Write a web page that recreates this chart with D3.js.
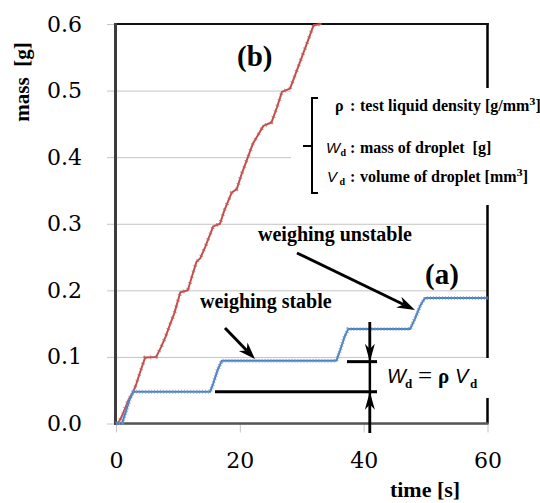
<!DOCTYPE html>
<html>
<head>
<meta charset="utf-8">
<script src="https://cdn.jsdelivr.net/npm/d3@7"></script>
<style>
  body { margin: 0; background: #fff; }
  svg { display: block; }
  .tick text { font-family: 'DejaVu Serif', serif; font-size: 22px; }
</style>
</head>
<body>
<svg id="chart" width="540" height="503"></svg>
<script>
// Axis ticks
const xTicks = [0, 20, 40, 60];
const yTicks = [0, 0.1, 0.2, 0.3, 0.4, 0.5, 0.6];

// (a) droplets weighed one by one: time [s] and mass [g]
const timeA = [0, 1.0, 1.6, 2.2, 2.8, 15.2, 15.7, 16.4, 17.1, 35.6, 36.2, 36.9, 37.5, 47.5, 48.3, 49.2, 49.9, 60];
const massA = [0, 0.001, 0.018, 0.036, 0.0475, 0.0475, 0.060, 0.080, 0.0944, 0.0944, 0.110, 0.130, 0.1418, 0.1418, 0.158, 0.178, 0.1885, 0.1885];

// (b) continuous dripping: time [s] and mass [g]
const timeB = [0, 0.5, 1.0, 2.0, 2.8, 3.3, 4.0, 4.7, 6.5, 7.3, 8.0, 8.7, 9.4, 10.4, 11.6, 12.3, 13.0, 13.6, 14.4, 15.7, 16.8, 17.5, 18.7, 19.5, 20.3, 21.3, 22.1, 23.8, 25.1, 26.0, 26.8, 28.1, 29.0, 30.0, 31.0, 31.9, 33.2];
const massB = [0, 0.003, 0.012, 0.035, 0.048, 0.060, 0.080, 0.099, 0.100, 0.115, 0.130, 0.148, 0.165, 0.197, 0.200, 0.222, 0.243, 0.248, 0.265, 0.296, 0.300, 0.320, 0.347, 0.352, 0.375, 0.400, 0.420, 0.447, 0.452, 0.475, 0.498, 0.503, 0.525, 0.550, 0.575, 0.598, 0.600];

const SERIF = "'Liberation Serif', 'Times New Roman', serif";
const DSERIF = "'DejaVu Serif', serif";
const SANS = "'Liberation Sans', Arial, sans-serif";

const svg = d3.select('#chart');
const x = d3.scaleLinear().domain([0, 60]).range([116, 487.5]);
const y = d3.scaleLinear().domain([0, 0.6]).range([423.5, 24]);

// Horizontal gridlines + y tick labels
svg.append('g')
  .attr('transform', 'translate(107,0)')
  .call(d3.axisLeft(y).tickValues(yTicks).tickSize(-(x(60) - 107)).tickPadding(25).tickFormat(d3.format('.1f')))
  .call(g => {
    g.select('.domain').remove();
    g.selectAll('line').attr('stroke', '#c4c4c4').attr('stroke-width', 1);
    g.selectAll('text').attr('fill', '#000');
  });

// x ticks + labels
svg.append('g')
  .attr('transform', `translate(0,${y(0)})`)
  .call(d3.axisBottom(x).tickValues(xTicks).tickSize(9).tickPadding(20).tickFormat(d3.format('d')))
  .call(g => {
    g.select('.domain').remove();
    g.selectAll('line').attr('stroke', '#c4c4c4').attr('stroke-width', 1);
    g.selectAll('text').attr('fill', '#000');
  });

// Plot frame
svg.append('line').attr('x1', x(60)).attr('x2', x(60)).attr('y1', y(0.6) - 1).attr('y2', y(0))
  .attr('stroke', '#000').attr('stroke-width', 2.5);
svg.append('line').attr('x1', 114).attr('x2', x(60) + 1.2).attr('y1', y(0.6)).attr('y2', y(0.6))
  .attr('stroke', '#111').attr('stroke-width', 2);

// White panels behind the legend and the formula
svg.append('rect').attr('x', 291).attr('y', 88).attr('width', 249).attr('height', 117).attr('fill', '#fff');
svg.append('rect').attr('x', 378).attr('y', 358).attr('width', 122).attr('height', 40).attr('fill', '#fff');

svg.append('line').attr('x1', 114).attr('x2', x(60) + 1).attr('y1', y(0)).attr('y2', y(0))
  .attr('stroke', '#555').attr('stroke-width', 2.5);
svg.append('line').attr('x1', 115.5).attr('x2', 115.5).attr('y1', y(0.6) - 1).attr('y2', y(0) + 1.2)
  .attr('stroke', '#3c3c3c').attr('stroke-width', 3);

// Series lines
const line = d3.line().x(d => x(d[0])).y(d => y(d[1])).curve(d3.curveLinear);
const seriesA = timeA.map((t, i) => [t, massA[i]]);
const seriesB = timeB.map((t, i) => [t, massB[i]]);

function drawSeries(data, color, markColor, dash) {
  svg.append('path').datum(data).attr('d', line)
    .attr('fill', 'none').attr('stroke', color).attr('stroke-width', 2)
    .attr('stroke-linejoin', 'round');
  svg.append('path').datum(data).attr('d', line)
    .attr('fill', 'none').attr('stroke', markColor).attr('stroke-width', 4)
    .attr('stroke-dasharray', dash).attr('opacity', 0.75);
}
drawSeries(seriesB, '#c0504d', '#c65d5a', '1 5');
drawSeries(seriesA, '#4a7ebb', '#6f9bd4', '1 2');

// Arrow helper: shaft plus a filled stealth head at (x2,y2)
function arrow(x1, y1, x2, y2, w, len, half) {
  const a = Math.atan2(y2 - y1, x2 - x1);
  const ca = Math.cos(a), sa = Math.sin(a);
  const bx = x2 - ca * len, by = y2 - sa * len;
  const nx = x2 - ca * len * 0.7, ny = y2 - sa * len * 0.7;
  svg.append('line').attr('x1', x1).attr('y1', y1).attr('x2', nx).attr('y2', ny)
    .attr('stroke', '#000').attr('stroke-width', w);
  const p = d3.path();
  p.moveTo(x2, y2);
  p.lineTo(bx - sa * half, by + ca * half);
  p.lineTo(nx, ny);
  p.lineTo(bx + sa * half, by - ca * half);
  p.closePath();
  svg.append('path').attr('d', p.toString()).attr('fill', '#000');
}

// Annotation arrows
arrow(225, 328, 255, 359, 3, 17, 6);
arrow(297, 253, 415, 310, 3, 18, 6);

// Dimension for one droplet mass
const dimX = x(41);
svg.append('line').attr('x1', dimX).attr('x2', dimX).attr('y1', 322).attr('y2', 433)
  .attr('stroke', '#000').attr('stroke-width', 2.5);
arrow(dimX, 322, dimX, y(massA[8]) + 1, 2.5, 18, 5);
arrow(dimX, 433, dimX, y(massA[4]), 2.5, 18, 5);
svg.append('line').attr('x1', 347).attr('x2', 377).attr('y1', y(massA[8]) + 1).attr('y2', y(massA[8]) + 1)
  .attr('stroke', '#000').attr('stroke-width', 3);
svg.append('line').attr('x1', 215).attr('x2', 377).attr('y1', y(massA[4])).attr('y2', y(massA[4]))
  .attr('stroke', '#000').attr('stroke-width', 3);

// Labels
function label(tx, ty, str, size, opts = {}) {
  return svg.append('text').attr('x', tx).attr('y', ty).text(str)
    .style('font-family', opts.family || SERIF)
    .attr('font-size', size)
    .attr('font-weight', opts.weight || 'bold')
    .attr('font-style', opts.style || 'normal')
    .attr('text-anchor', opts.anchor || 'start')
    .attr('fill', '#000');
}

label(237, 66, '(b)', 29);
label(425, 284, '(a)', 29);
label(258, 241, 'weighing unstable', 20);
label(200, 308, 'weighing stable', 20);
label(425, 497, 'time [s]', 22, { anchor: 'middle' });
svg.append('text').attr('transform', 'translate(29,82) rotate(-90)')
  .attr('text-anchor', 'middle').style('font-family', SERIF).attr('font-weight', 'bold')
  .attr('font-size', 21).text('mass\u00a0 [g]');

// Legend bracket
svg.append('path').attr('d', 'M318,98 H312 V193 H318 M312,146 H303')
  .attr('fill', 'none').attr('stroke', '#000').attr('stroke-width', 2);

// Legend rows
label(335, 111, 'ρ', 16);
label(350, 111, ':', 16);
const l1 = label(360, 111, 'test liquid density [g/mm', 16);
l1.append('tspan').attr('dy', -6).attr('font-size', 9).style('font-family', DSERIF).text('3');
l1.append('tspan').attr('dy', 6).text(']');

label(326, 153, 'W', 15, { family: SANS, weight: 'normal', style: 'italic' });
label(340.5, 156, 'd', 10);
label(350, 153, ':', 16);
label(360, 153, 'mass of droplet\u00a0 [g]', 16);

label(327, 182, 'V', 15, { family: SANS, weight: 'normal', style: 'italic' });
label(339.5, 185, 'd', 10);
label(350, 182, ':', 16);
const l3 = label(360, 182, 'volume of droplet [mm', 16);
l3.append('tspan').attr('dy', -6).attr('font-size', 9).style('font-family', DSERIF).text('3');
l3.append('tspan').attr('dy', 6).text(']');

// Formula  W_d = ρ V_d
label(387, 383, 'W', 20, { family: SANS, weight: 'normal', style: 'italic' });
label(405, 388, 'd', 13);
label(418, 384, '=', 25, { weight: 'normal' });
label(438, 383, 'ρ', 21);
label(455, 383, 'V', 20, { family: SANS, weight: 'normal', style: 'italic' });
label(470, 388, 'd', 13);
</script>
</body>
</html>
